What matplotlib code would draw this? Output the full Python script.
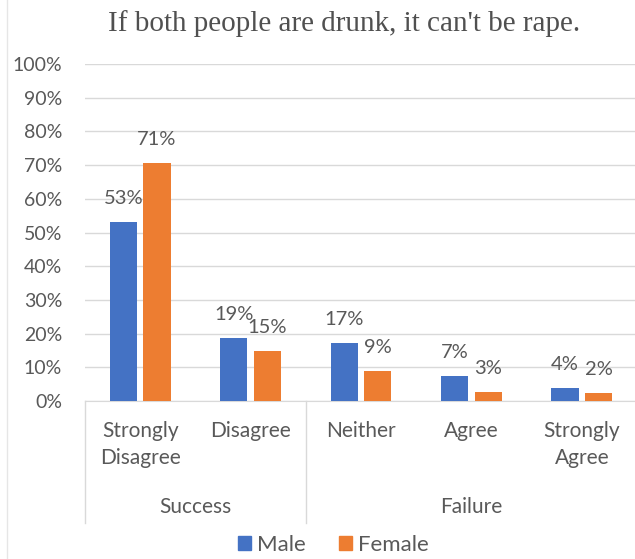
import matplotlib.pyplot as plt
from matplotlib.patches import Rectangle
from matplotlib.lines import Line2D

# data
categories = ['Strongly\nDisagree', 'Disagree', 'Neither', 'Agree', 'Strongly\nAgree']
groups = ['Success', 'Failure']
group_sizes = [2, 3]
male = [53.0, 18.7, 17.3, 7.3, 3.8]
female = [70.6, 14.9, 9.0, 2.7, 2.3]
yticks = list(range(0, 101, 10))

blue = '#4472c4'
orange = '#ed7d31'
txt = '#595959'
grid = '#d9d9d9'

W, H = 635, 559
fig = plt.figure(figsize=(W / 100, H / 100), dpi=100)
plt.rcParams['font.family'] = ['Lato', 'DejaVu Sans']

left, right, top, bottom = 85, 637, 64, 401
ax = fig.add_axes([left / W, 1 - bottom / H, (right - left) / W, (bottom - top) / H])

x = list(range(len(categories)))
bw = 0.245
off = 0.152
ax.bar([i - off for i in x], male, width=bw, color=blue, zorder=3)
ax.bar([i + off for i in x], female, width=bw, color=orange, zorder=3)

for i in x:
    ax.annotate('%d%%' % round(male[i]), (i - off, male[i]), xytext=(0, 13),
                textcoords='offset points', ha='center', va='baseline',
                fontsize=14.5, color=txt)
    ax.annotate('%d%%' % round(female[i]), (i + off, female[i]), xytext=(0, 13),
                textcoords='offset points', ha='center', va='baseline',
                fontsize=14.5, color=txt)

ax.set_xlim(-0.5, len(categories) - 0.5)
ax.set_ylim(0, 100)
ax.set_yticks(yticks)
ax.set_yticklabels(['%d%%' % t for t in yticks])
ax.tick_params(axis='y', length=0, labelsize=14, labelcolor=txt, pad=16.5)
ax.set_xticks([])
ax.grid(axis='y', color=grid, linewidth=1, zorder=0)
for s in ['top', 'right', 'left']:
    ax.spines[s].set_visible(False)
ax.spines['bottom'].set_color(grid)

# two-level category axis
trans = ax.get_xaxis_transform()
for i, c in enumerate(categories):
    ax.text(i, -0.06, c, transform=trans, ha='center', va='top',
            fontsize=15, color=txt, linespacing=1.45)
start = 0
seps = [-0.5]
for g, n in zip(groups, group_sizes):
    mid = start + (n - 1) / 2
    ax.text(mid, -0.315, g, transform=trans, ha='center', va='center',
            fontsize=15, color=txt)
    start += n
    seps.append(start - 0.5)
for s in seps[:-1]:
    ax.add_line(Line2D([s, s], [0, -(523 - 401) / (bottom - top)], transform=trans,
                       color=grid, linewidth=1, clip_on=False))

# faint chart border on the left edge
fig.add_artist(Line2D([7 / W, 7 / W], [0, 1], color='#e6e6e6', linewidth=1))

# title
fig.text(344 / W, 1 - 24 / H, "If both people are drunk, it can't be rape.",
         ha='center', va='center', fontsize=21, color='#505050',
         family='Liberation Serif')

# legend
handles = [Rectangle((0, 0), 1, 1, color=blue), Rectangle((0, 0), 1, 1, color=orange)]
fig.legend(handles, ['Male', 'Female'], loc='center', bbox_to_anchor=(333 / W, 1 - 545 / H),
           ncol=2, frameon=False, fontsize=16, handlelength=0.6, handleheight=0.6,
           handletextpad=0.25, columnspacing=1.5, labelcolor=txt)

fig.savefig('out.png', dpi=100)
